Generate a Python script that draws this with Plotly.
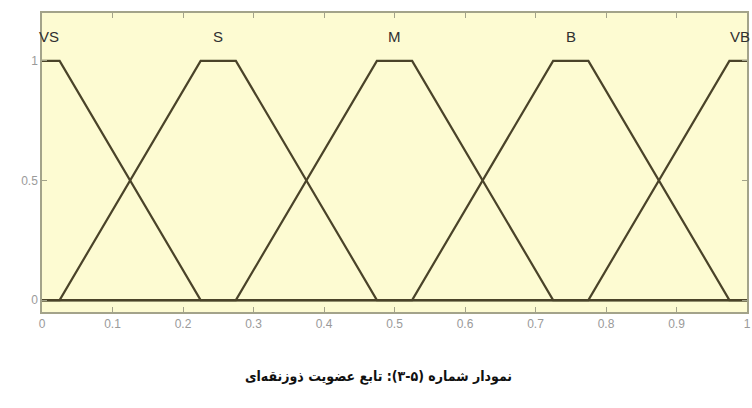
import plotly.graph_objects as go

# Trapezoidal membership functions: (a, b, c, d) corners
mf_names = ["VS", "S", "M", "B", "VB"]
mf_a = [-0.225, 0.025, 0.275, 0.525, 0.775]
mf_b = [-0.025, 0.225, 0.475, 0.725, 0.975]
mf_c = [0.025, 0.275, 0.525, 0.775, 1.025]
mf_d = [0.225, 0.475, 0.725, 0.975, 1.225]
mf_label_x = [0.01, 0.25, 0.5, 0.75, 0.99]

x_ticks = [0, 0.1, 0.2, 0.3, 0.4, 0.5, 0.6, 0.7, 0.8, 0.9, 1]
x_tick_text = ["0", "0.1", "0.2", "0.3", "0.4", "0.5", "0.6", "0.7", "0.8", "0.9", "1"]
y_ticks = [0, 0.5, 1]
y_tick_text = ["0", "0.5", "1"]

caption = "نمودار شماره (۵-۳): تابع عضویت ذوزنقه‌ای"

line_color = "#4a4329"


def trap(x, a, b, c, d):
    if x <= a or x >= d:
        return 0.0
    if x < b:
        return (x - a) / (b - a)
    if x <= c:
        return 1.0
    return (d - x) / (d - c)


fig = go.Figure()

for name, a, b, c, d in zip(mf_names, mf_a, mf_b, mf_c, mf_d):
    xs = sorted(set([0.0, 1.0] + [v for v in (a, b, c, d) if 0.0 <= v <= 1.0]))
    ys = [trap(v, a, b, c, d) for v in xs]
    fig.add_trace(go.Scatter(
        x=xs, y=ys, mode="lines", name=name,
        line=dict(color=line_color, width=2.2),
        hoverinfo="skip", showlegend=False,
    ))

for name, lx in zip(mf_names, mf_label_x):
    fig.add_annotation(
        x=lx, y=1.10, text=name, showarrow=False,
        font=dict(family="Liberation Sans, Arial", size=15, color="#303030"),
        xanchor="center", yanchor="middle",
    )

fig.add_annotation(
    xref="paper", yref="paper", x=0.477, y=-0.215,
    text="<b>" + caption + "</b>", showarrow=False,
    font=dict(family="DejaVu Sans Condensed, DejaVu Sans", size=14, color="#111111"),
    xanchor="center", yanchor="middle",
)

axis_common = dict(
    showgrid=False, zeroline=False,
    showline=True, linecolor="#a3a38a", linewidth=1.5,
    ticks="inside", ticklen=5, tickcolor="#a3a38a", tickwidth=1,
    mirror="ticks",
    ticklabeloverflow="allow",
    tickfont=dict(family="Liberation Sans, Arial", size=12, color="#9a9a9a"),
)

fig.update_xaxes(
    range=[0, 1], tickvals=x_ticks, ticktext=x_tick_text, **axis_common
)
fig.update_yaxes(
    range=[-0.05, 1.2], tickvals=y_ticks, ticktext=y_tick_text, **axis_common
)

fig.update_layout(
    width=752, height=408,
    margin=dict(l=42, r=1, t=13, b=96),
    plot_bgcolor="#fdfbd2",
    paper_bgcolor="#ffffff",
    showlegend=False,
)

fig.write_html("out.html")
